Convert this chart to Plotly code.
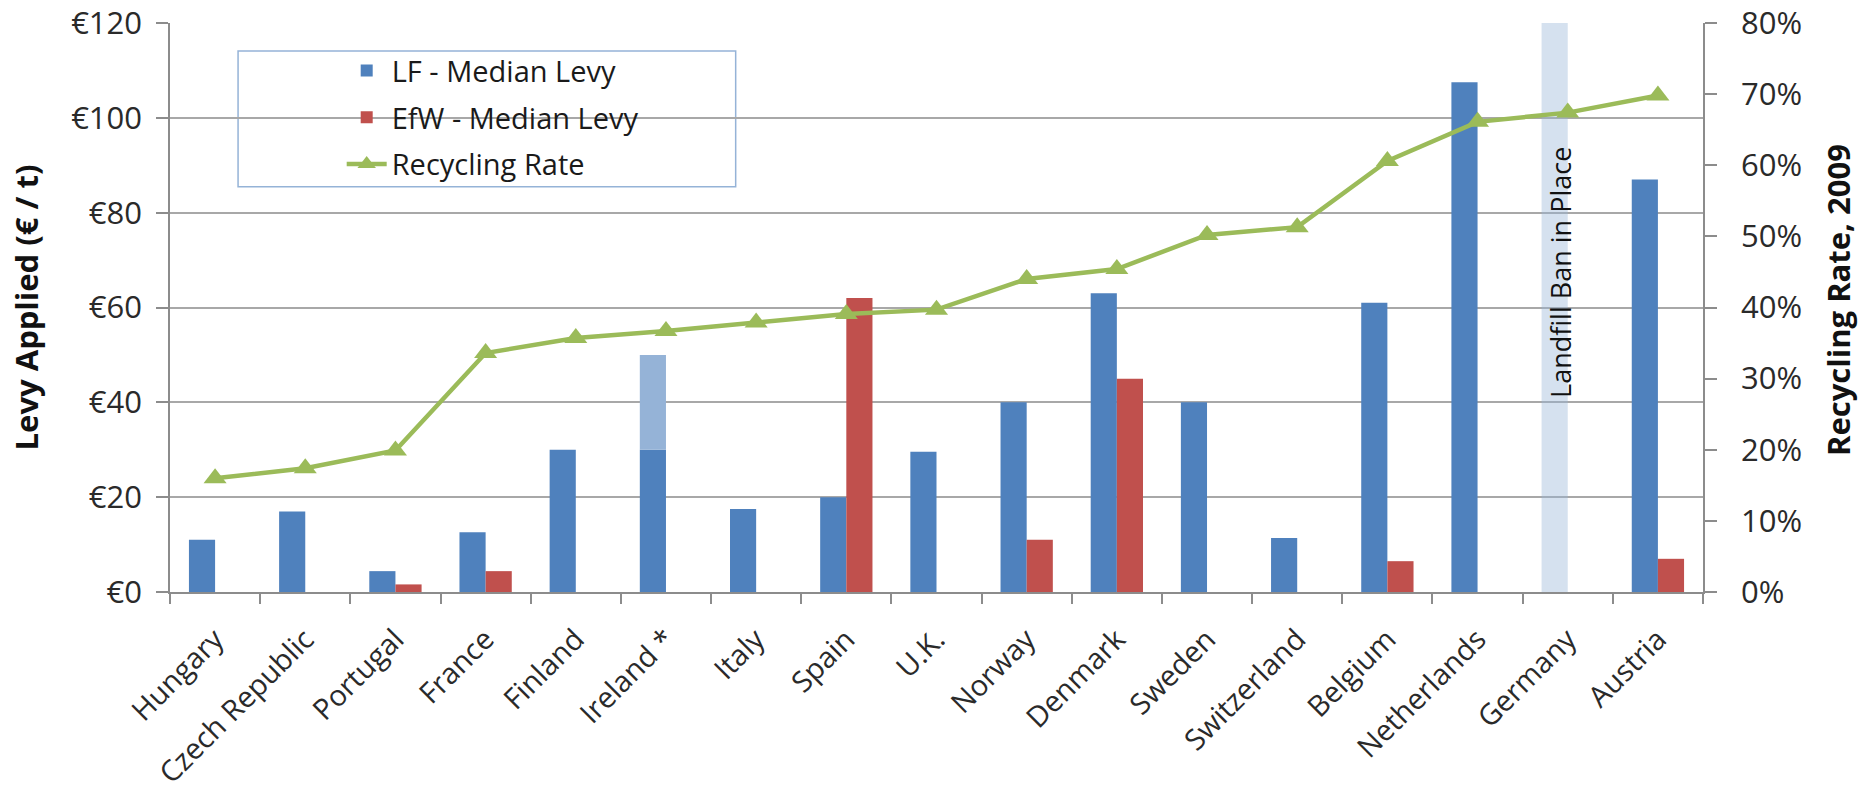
import plotly.graph_objects as go

# Landfill / energy-from-waste levies (EUR per tonne) and recycling rates, 2009
countries = [
    "Hungary", "Czech Republic", "Portugal", "France", "Finland", "Ireland *",
    "Italy", "Spain", "U.K.", "Norway", "Denmark", "Sweden", "Switzerland",
    "Belgium", "Netherlands", "Germany", "Austria",
]
lf_levy = [11, 17, 4.4, 12.6, 30, 30, 17.5, 20, 29.6, 40, 63, 40, 11.4, 61, 107.5, None, 87]
efw_levy = [None, None, 1.6, 4.4, None, None, None, 62, None, 11, 45, None, None, 6.5, None, None, 7]
recycling_rate = [16.0, 17.4, 19.9, 33.6, 35.7, 36.7, 37.9, 39.1, 39.7, 44.0,
                  45.4, 50.2, 51.3, 60.6, 66.1, 67.4, 69.8]

# Ireland's LF levy range (low, high)
ireland_country = "Ireland *"
ireland_range = [30, 50]
# Countries with a landfill ban instead of a levy
ban_countries = ["Germany"]
ban_label = "Landfill Ban in Place"

levy_max = 120
rate_max = 80

BLUE = "#4F81BD"
RED = "#C0504D"
GREEN = "#9BBB59"
LIGHT_BLUE = "#95B3D7"
GRID = "#A8A8A8"
AXIS = "#8C8C8C"
TEXT = "#2a2a2a"
FONT = "Open Sans"

fig = go.Figure()

fig.add_trace(go.Bar(
    x=countries, y=lf_levy, name="LF - Median Levy",
    marker=dict(color=BLUE, line=dict(width=0)),
    offsetgroup="lf", legendgroup="lf",
))
fig.add_trace(go.Bar(
    x=countries, y=efw_levy, name="EfW - Median Levy",
    marker=dict(color=RED, line=dict(width=0)),
    offsetgroup="efw", legendgroup="efw",
))
# upper part of Ireland's levy range, stacked on the low value
fig.add_trace(go.Bar(
    x=[ireland_country], y=[ireland_range[1] - ireland_range[0]], base=[ireland_range[0]],
    marker=dict(color=LIGHT_BLUE, line=dict(width=0)),
    offsetgroup="lf", showlegend=False, name="Ireland range", legendgroup="ireland",
))
# full-height band marking the landfill ban
fig.add_trace(go.Bar(
    x=ban_countries, y=[levy_max] * len(ban_countries),
    marker=dict(color="rgba(149,179,215,0.4)", line=dict(width=0)),
    offsetgroup="lf", showlegend=False, name="Landfill ban", legendgroup="ban",
))
fig.add_trace(go.Scatter(
    x=countries, y=recycling_rate, name="Recycling Rate", yaxis="y2",
    mode="lines+markers",
    line=dict(color=GREEN, width=4.5),
    marker=dict(symbol="triangle-up", size=20, color=GREEN),
    legendgroup="rate",
))

for c in ban_countries:
    fig.add_annotation(
        x=c, y=0.562, xref="x", yref="paper", xshift=-8,
        text=ban_label, textangle=-90, showarrow=False,
        font=dict(family=FONT, size=27, color="#111111"),
    )

# axis titles
fig.add_annotation(
    x=-0.094, y=0.5, xref="paper", yref="paper", xanchor="center", yanchor="middle",
    text="<b>Levy Applied (€ / t)</b>", textangle=-90, showarrow=False,
    font=dict(family=FONT, size=31, color="#111111"),
)
fig.add_annotation(
    x=1.088, y=0.513, xref="paper", yref="paper", xanchor="center", yanchor="middle",
    text="<b>Recycling Rate, 2009</b>", textangle=-90, showarrow=False,
    font=dict(family=FONT, size=31, color="#111111"),
)

# legend frame
fig.add_shape(
    type="rect", xref="paper", yref="paper",
    x0=0.0444, x1=0.369, y0=0.712, y1=0.951,
    line=dict(color=LIGHT_BLUE, width=1.5), fillcolor="white", layer="below",
)

fig.update_layout(
    width=1862, height=793,
    margin=dict(l=170, r=159, t=23, b=201, autoexpand=False),
    paper_bgcolor="white", plot_bgcolor="rgba(0,0,0,0)",
    barmode="group", bargap=0.42, bargroupgap=0,
    font=dict(family=FONT, color=TEXT),
    legend=dict(
        x=0.112, y=0.961, xanchor="left", yanchor="top",
        bgcolor="rgba(0,0,0,0)", borderwidth=0,
        font=dict(family=FONT, size=29, color="#1a1a1a"),
        tracegroupgap=6, traceorder="grouped", itemwidth=40,
    ),
    xaxis=dict(
        type="category", range=[-0.5, len(countries) - 0.5], automargin=False,
        showline=True, linecolor=AXIS, linewidth=1.5,
        ticks="outside", tickson="boundaries", ticklen=10, tickcolor=AXIS, tickwidth=1.5,
        tickangle=-45, tickfont=dict(family=FONT, size=29, color=TEXT),
        ticklabelstandoff=17, showgrid=False,
    ),
    yaxis=dict(
        range=[0, levy_max], dtick=20, tickprefix="€", automargin=False,
        showgrid=True, gridcolor=GRID, gridwidth=1.5,
        showline=True, linecolor=AXIS, linewidth=1.5,
        ticks="outside", ticklen=12, tickcolor=AXIS, tickwidth=1.5,
        tickfont=dict(family=FONT, size=31, color=TEXT),
        ticklabelstandoff=8, zeroline=False,
    ),
    yaxis2=dict(
        range=[0, rate_max], dtick=10, ticksuffix="%", automargin=False,
        overlaying="y", side="right", showgrid=False,
        showline=True, linecolor=AXIS, linewidth=1.5,
        ticks="outside", ticklen=12, tickcolor=AXIS, tickwidth=1.5,
        tickfont=dict(family=FONT, size=31, color=TEXT),
        ticklabelstandoff=18, zeroline=False,
    ),
)

fig.write_html("out.html")
